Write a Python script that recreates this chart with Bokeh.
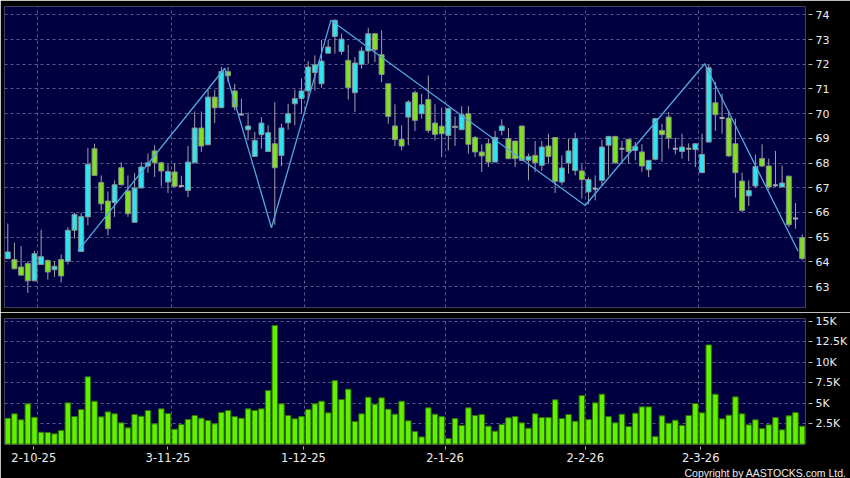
from bokeh.plotting import figure
from bokeh.models import FixedTicker, Grid, Title, ColumnDataSource, Range1d
from bokeh.layouts import column
from bokeh.embed import file_html
from bokeh.resources import INLINE

# ---------------- data ----------------
opens = [64.13, 64.09, 63.79, 63.93, 63.23, 63.89, 64.05, 63.68, 64.09, 64.02,
         65.28, 64.42, 65.82, 68.58, 67.21, 66.46, 66.40, 67.81, 66.87, 65.60,
         66.99, 67.88, 68.49, 68.01, 67.23, 67.64, 67.07, 66.89, 68.01, 69.42,
         68.74, 70.67, 70.24, 71.70, 70.92, 69.97, 69.35, 68.27, 69.15, 68.47,
         68.78, 68.31, 69.63, 70.40, 70.61, 70.92, 71.67, 71.21, 72.45, 73.13,
         72.52, 72.16, 70.85, 72.00, 72.54, 73.24, 72.39, 71.21, 69.50, 68.95,
         69.86, 70.85, 70.00, 70.57, 69.62, 69.49, 69.12, 69.49, 69.35, 70.00,
         69.03, 68.45, 68.78, 68.04, 69.32, 68.99, 68.89, 69.50, 68.11, 68.31,
         67.91, 68.69, 69.03, 67.23, 68.00, 67.70, 67.68, 66.83, 66.96, 67.30,
         68.72, 69.08, 68.58, 68.96, 68.51, 68.45, 67.73, 68.15, 69.32, 69.86,
         68.58, 68.47, 68.58, 68.55, 67.61, 68.85, 70.44, 69.82, 69.82, 68.78,
         67.27, 66.67, 67.07, 68.18, 67.88, 67.10, 67.03, 67.47, 65.75, 64.98]
highs = [65.55, 64.78, 64.64, 64.02, 64.44, 65.30, 64.10, 64.02, 64.30, 65.40,
         65.99, 65.99, 68.61, 68.78, 67.50, 66.85, 67.30, 68.02, 67.50, 67.60,
         68.04, 68.38, 68.72, 68.05, 67.95, 68.00, 67.48, 68.69, 70.09, 70.09,
         71.00, 70.97, 71.89, 71.89, 71.21, 70.61, 70.04, 69.26, 69.86, 69.53,
         70.47, 69.59, 70.40, 70.97, 71.42, 72.13, 72.36, 72.99, 72.99, 73.82,
         73.24, 72.79, 72.29, 72.70, 73.48, 73.24, 73.37, 71.21, 70.38, 69.53,
         70.55, 70.94, 70.81, 71.55, 70.38, 70.24, 70.24, 69.89, 70.30, 70.30,
         69.10, 68.76, 68.99, 69.30, 69.77, 69.42, 68.89, 69.50, 68.38, 68.89,
         68.89, 69.19, 69.03, 68.31, 68.99, 69.23, 67.95, 67.43, 67.50, 68.95,
         69.08, 69.08, 68.90, 68.96, 68.85, 68.76, 68.11, 69.80, 69.59, 70.07,
         69.03, 69.19, 68.80, 68.80, 69.19, 72.00, 71.28, 70.81, 70.13, 69.80,
         67.61, 67.30, 68.35, 68.76, 68.18, 68.49, 67.90, 67.47, 66.38, 65.11]
lows = [64.10, 63.70, 63.45, 62.74, 63.22, 63.88, 63.28, 63.39, 63.16, 63.89,
        64.94, 64.42, 65.48, 67.50, 66.08, 65.07, 65.82, 67.10, 65.82, 65.60,
        66.99, 67.60, 67.44, 67.06, 66.79, 67.04, 67.03, 66.62, 68.01, 68.45,
        68.74, 69.62, 70.24, 71.28, 70.13, 69.93, 68.92, 68.27, 68.58, 68.47,
        65.50, 67.88, 69.35, 69.53, 70.00, 70.57, 70.94, 71.05, 72.43, 72.43,
        72.39, 70.57, 70.07, 71.82, 72.02, 72.09, 71.28, 69.59, 68.69, 68.51,
        68.72, 69.30, 69.80, 69.22, 68.92, 68.24, 68.51, 68.69, 69.35, 68.38,
        68.24, 67.64, 67.84, 68.04, 69.12, 68.15, 67.84, 68.08, 67.30, 67.64,
        67.68, 67.97, 66.79, 67.10, 67.57, 67.50, 66.56, 66.33, 66.49, 67.10,
        67.50, 67.97, 67.97, 67.97, 68.11, 67.64, 67.43, 68.11, 68.04, 68.58,
        68.35, 68.18, 68.08, 67.84, 67.61, 68.85, 69.30, 69.19, 68.24, 66.60,
        66.01, 66.26, 67.00, 67.84, 66.92, 67.03, 67.03, 65.41, 65.34, 64.06]
closes = [64.40, 63.72, 63.46, 63.23, 64.33, 64.21, 63.59, 63.82, 63.43, 65.28,
          65.92, 65.83, 67.95, 67.50, 66.35, 65.34, 67.12, 67.12, 65.95, 66.99,
          67.84, 68.01, 68.01, 67.68, 67.66, 67.06, 67.07, 68.04, 69.42, 68.69,
          70.67, 70.24, 71.71, 71.54, 70.27, 69.97, 69.50, 68.92, 69.62, 69.23,
          67.81, 69.42, 70.00, 70.61, 70.92, 71.89, 71.98, 72.13, 72.70, 73.78,
          73.02, 71.05, 72.05, 72.54, 73.24, 72.59, 71.59, 69.89, 68.95, 68.69,
          70.47, 69.73, 70.36, 69.32, 69.16, 69.19, 70.20, 69.44, 69.96, 68.76,
          68.45, 68.29, 68.04, 69.03, 69.50, 68.18, 68.18, 68.11, 68.27, 68.01,
          68.65, 68.27, 67.26, 67.80, 68.49, 68.99, 67.33, 67.33, 66.96, 68.65,
          69.08, 68.01, 68.58, 68.47, 68.68, 67.88, 68.11, 69.80, 69.15, 69.01,
          68.58, 68.65, 68.58, 68.78, 68.35, 71.86, 69.96, 69.82, 68.29, 67.61,
          66.08, 66.89, 67.86, 67.88, 67.03, 67.10, 67.19, 65.50, 65.75, 64.13]
volumes = [3170, 3700, 2970, 4920, 3290, 1460, 1420, 1260, 1670, 5040,
           3370, 4230, 8210, 5240, 3330, 3940, 3700, 2600, 1990, 3620,
           3410, 4110, 2480, 4310, 3740, 1830, 2400, 3010, 3500, 3170,
           2890, 2480, 3860, 4110, 3370, 3170, 4310, 4110, 4310, 6540,
           14470, 4920, 3500, 3090, 3370, 4230, 4920, 5240, 3820, 7760,
           5450, 6710, 2760, 3700, 5730, 4880, 5650, 4270, 3660, 5240,
           2850, 1540, 890, 4430, 3660, 3370, 690, 3130, 2280, 4430,
           3500, 3620, 2200, 1590, 2400, 3210, 3370, 2600, 1950, 3700,
           3250, 3250, 5410, 3130, 3620, 2800, 5930, 3010, 5040, 6100,
           3370, 2600, 3660, 2150, 3780, 4550, 4550, 930, 3460, 2560,
           2930, 2280, 3500, 4960, 3820, 12110, 6100, 3090, 3540, 5770,
           3700, 2360, 2970, 1910, 2360, 3250, 1750, 3460, 3860, 2200]
zigzag_x = [10.5, 32.5, 39.5, 48.4, 86.5, 104.4, 118.4]
zigzag_y = [64.43, 71.84, 65.38, 73.78, 66.28, 72.02, 64.43]
date_ticks = [3.9, 24.0, 44.3, 65.5, 86.5, 103.8]
date_labels = ["2-10-25", "3-11-25", "1-12-25", "2-1-26", "2-2-26", "2-3-26"]
date_grid = [4.5, 24.5, 44.5, 65.5, 86.5, 103.5]
price_ticks = [63, 64, 65, 66, 67, 68, 69, 70, 71, 72, 73, 74]
volume_ticks = [2500, 5000, 7500, 10000, 12500, 15000]
volume_labels = ["2.5K", "5K", "7.5K", "10K", "12.5K", "15K"]
copyright_text = "Copyright by AASTOCKS.com Ltd."

# ---------------- styling ----------------
BG = "#000040"
CYAN = "#2fe4f0"
GREEN = "#7fe11f"
DOJI = "#a8a8a8"
OUTLINE = "#8a9090"
WICK = "#a0a0a8"
ZIG = "#4fa8e0"
GRID = "#5c5c8c"
VOLFILL = "#62f000"
VOLLINE = "#2e7000"
TXT = "#ececec"
FONT = "DejaVu Sans"

n = len(opens)
idx = list(range(n))

x_range = Range1d(-0.49, 119.5)


def style_common(p):
    p.grid.visible = False
    p.background_fill_color = BG
    p.border_fill_color = "black"
    p.outline_line_color = None


def style_right_axis(ax):
    ax.axis_line_color = None
    ax.major_tick_line_color = "#b8b8b8"
    ax.major_tick_in = -3
    ax.major_tick_out = 7
    ax.minor_tick_line_color = None
    ax.major_label_standoff = 3
    ax.major_label_text_color = TXT
    ax.major_label_text_font = FONT
    ax.major_label_text_font_size = "11px"


# ---------------- price panel ----------------
p1 = figure(width=850, height=312, x_range=x_range, y_range=Range1d(62.15, 74.34),
            output_backend="svg", toolbar_location=None,
            x_axis_location=None, y_axis_location="right",
            min_border_left=4, min_border_right=42, min_border_top=6, min_border_bottom=5)
style_common(p1)
p1.add_layout(Grid(dimension=0, ticker=FixedTicker(ticks=date_grid),
                   grid_line_color=GRID, grid_line_dash="3 3"))
p1.add_layout(Grid(dimension=1, ticker=FixedTicker(ticks=price_ticks),
                   grid_line_color=GRID, grid_line_dash="3 3"))

src = ColumnDataSource(dict(x=idx, o=opens, h=highs, l=lows, c=closes))
p1.segment(x0="x", y0="l", x1="x", y1="h", source=src, line_color=WICK, line_width=1)

up = [i for i in idx if closes[i] > opens[i]]
down = [i for i in idx if closes[i] < opens[i]]
flat = [i for i in idx if closes[i] == opens[i]]

p1.vbar(x=up, top=[closes[i] for i in up], bottom=[opens[i] for i in up], width=0.74,
        fill_color=CYAN, line_color=OUTLINE, line_width=1)
p1.vbar(x=down, top=[opens[i] for i in down], bottom=[closes[i] for i in down], width=0.74,
        fill_color=GREEN, line_color=OUTLINE, line_width=1)
p1.vbar(x=flat, top=[closes[i] for i in flat], bottom=[opens[i] for i in flat], width=0.74,
        fill_color=DOJI, line_color=DOJI, line_width=2)

p1.line(zigzag_x, zigzag_y, line_color=ZIG, line_width=1.3)

ax = p1.yaxis[0]
ax.ticker = FixedTicker(ticks=price_ticks)
style_right_axis(ax)

# ---------------- volume panel ----------------
p2 = figure(width=850, height=166, x_range=x_range, y_range=Range1d(-40, 15330),
            output_backend="svg", toolbar_location=None,
            x_axis_location="below", y_axis_location="right",
            min_border_left=4, min_border_right=42, min_border_top=6, min_border_bottom=34)
style_common(p2)
p2.add_layout(Grid(dimension=0, ticker=FixedTicker(ticks=date_grid),
                   grid_line_color=GRID, grid_line_dash="3 3"))
p2.add_layout(Grid(dimension=1, ticker=FixedTicker(ticks=volume_ticks),
                   grid_line_color=GRID, grid_line_dash="3 3"))

p2.vbar(x=idx, top=volumes, bottom=0, width=0.82,
        fill_color=VOLFILL, line_color=VOLLINE, line_width=1)

vy = p2.yaxis[0]
vy.ticker = FixedTicker(ticks=volume_ticks)
vy.major_label_overrides = {t: s for t, s in zip(volume_ticks, volume_labels)}
style_right_axis(vy)

vx = p2.xaxis[0]
vx.ticker = FixedTicker(ticks=date_ticks)
vx.major_label_overrides = {t: s for t, s in zip(date_ticks, date_labels)}
vx.axis_line_color = None
vx.major_tick_line_color = "#b8b8b8"
vx.major_tick_in = -2
vx.major_tick_out = 5
vx.minor_tick_line_color = None
vx.major_label_standoff = 3
vx.major_label_text_color = TXT
vx.major_label_text_font = FONT
vx.major_label_text_font_size = "11.5px"

# copyright line under the date axis, right-aligned near the page edge
p2.add_layout(Title(text=copyright_text, align="right", offset=-41, standoff=0,
                    vertical_align="bottom", text_color=TXT,
                    text_font="Liberation Sans", text_font_size="10.5px",
                    text_font_style="normal"), "below")

layout = column(p1, p2, spacing=0)

open("out.html", "w").write(file_html(layout, INLINE))
